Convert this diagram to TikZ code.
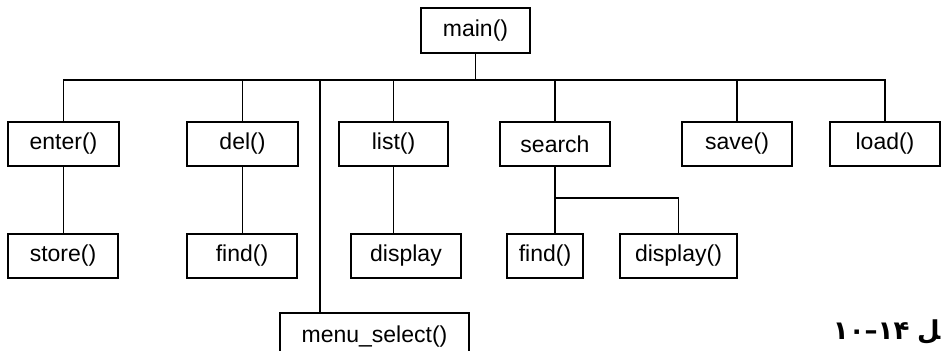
\documentclass[tikz,border=0pt]{standalone}
\usepackage{fontspec}
\setmainfont{Liberation Sans}
\newfontfamily\farsi{DejaVu Sans}
\usetikzlibrary{positioning}

\begin{document}
\begin{tikzpicture}[
    x=0.5pt, y=-0.5pt,
    line width=0.8pt,
    fn/.style={
        draw, line width=1.1pt,
        rectangle, inner sep=0pt,
        minimum width=#1, minimum height=22pt,
        font=\fontsize{11.5}{13}\selectfont,
    },
    fn/.default=55pt,
    fig/.style={inner sep=0pt, font=\farsi\bfseries\fontsize{13}{15}\selectfont},
]
\useasboundingbox (0,0) rectangle (942,351);

% top level
\node[fn=54.5pt, minimum height=22.5pt] (main) at (475.5,30.5) {main()};

% first row
\node[fn=55.5pt] (enter)  at (63.5,144) {enter()};
\node[fn=55.5pt] (del)    at (242.5,144) {del()};
\node[fn=54.5pt] (list)   at (393.5,144) {list()};
\node[fn]        (search) at (555,144) {search};
\node[fn]        (save)   at (737,144) {save()};
\node[fn]        (load)   at (885,144) {load()};

% second row
\node[fn]        (store)  at (63,256) {store()};
\node[fn]        (find)   at (242,256) {find()};
\node[fn]        (disp)   at (406,256) {display};
\node[fn=38pt]   (sfind)  at (545,256) {find()};
\node[fn=58.5pt] (sdisp)  at (678.5,256) {display()};

\node[fn=94.5pt, minimum height=24pt] (menu) at (374.5,337) {menu\_select()};

% connectors
\coordinate (bus)  at (475,80);
\coordinate (msel) at (320,80);
\coordinate (sj)   at (555,198);

\draw (main.south) -- (main.south |- bus);
\draw (enter.north) -- (enter.north |- bus) -- (load.north |- bus) -- (load.north);
\foreach \f in {del,list,search,save}
    \draw (\f.north) -- (\f.north |- bus);
\draw (msel) -- (msel |- menu.north);

\draw (enter.south) -- (enter.south |- store.north);
\draw (del.south) -- (del.south |- find.north);
\draw (list.south) -- (list.south |- disp.north);
\draw (search.south) -- (search.south |- sfind.north);
\draw (sj) -| (sdisp.north);

% figure number
\node[fig, anchor=base east] (figl) at (941,340) {ﻞ};
\node[fig, anchor=base east] (figno) at ([xshift=-3pt]figl.base west) {\mbox{۱۰}\mbox{–}\mbox{۱۴}};

\end{tikzpicture}
\end{document}
